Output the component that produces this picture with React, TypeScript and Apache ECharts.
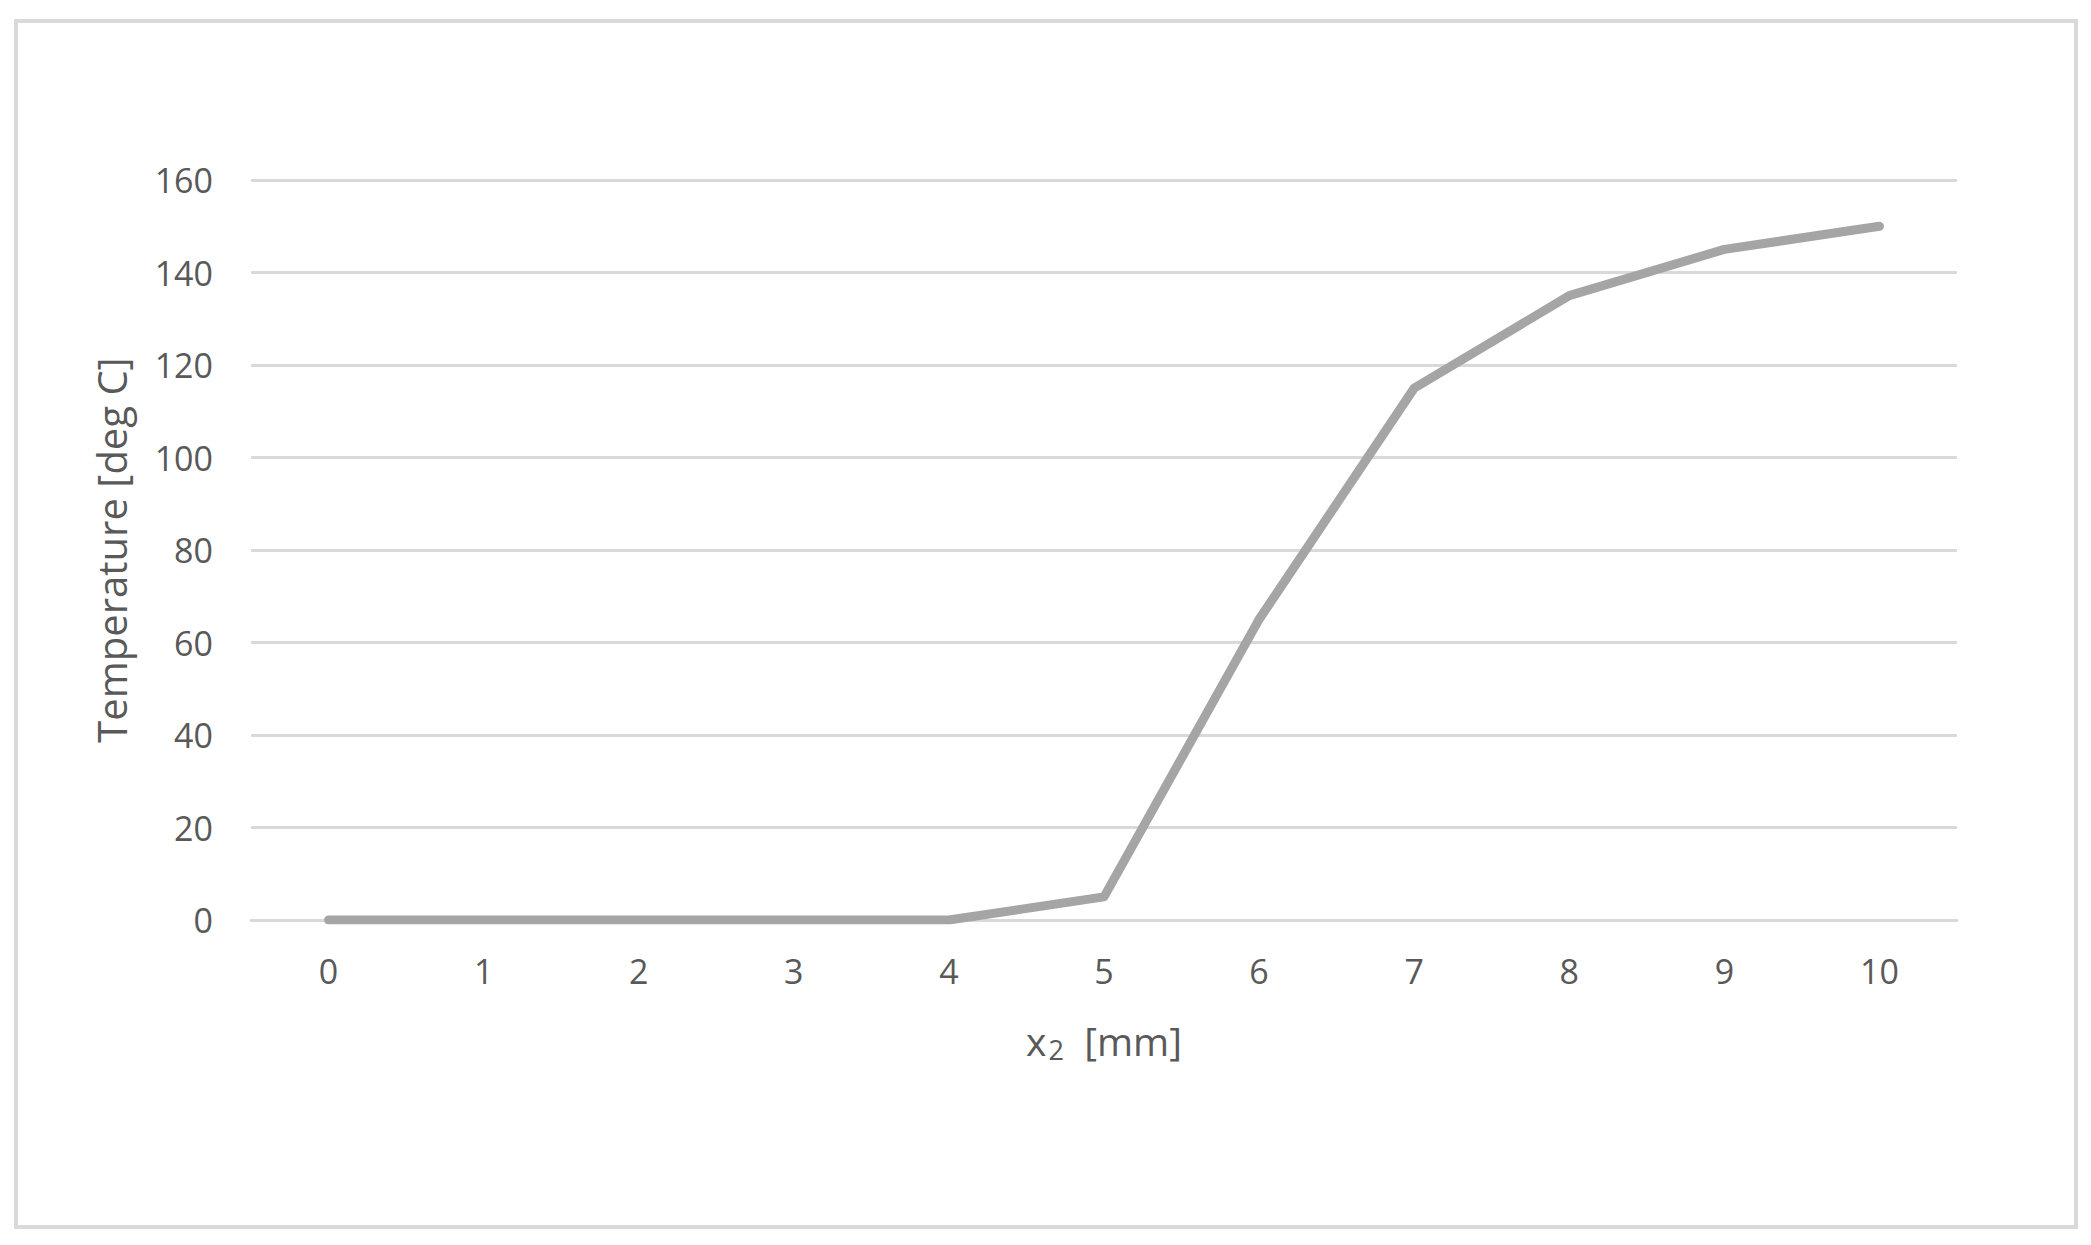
import React, { useEffect, useRef } from "react";
import * as echarts from "echarts";

const categories = ["0", "1", "2", "3", "4", "5", "6", "7", "8", "9", "10"];
const temperature = [0, 0, 0, 0, 0, 5, 65, 115, 135, 145, 150];
const yTicks = { min: 0, max: 160, interval: 20 };
const yTitle = "Temperature [deg C]";

export default function App() {
  const ref = useRef<HTMLDivElement>(null);
  useEffect(() => {
    if (!ref.current) return;
    const chart = echarts.init(ref.current, undefined, { renderer: "svg" });
    const font = "'Open Sans', 'Liberation Sans', sans-serif";
    chart.setOption({
      animation: false,
      backgroundColor: "#ffffff",
      textStyle: { fontFamily: font, color: "#595959" },
      graphic: [
        {
          type: "rect",
          shape: { x: 16, y: 21, width: 2060, height: 1206 },
          style: { fill: "none", stroke: "#D9D9D9", lineWidth: 4 },
          silent: true,
        },
      ],
      grid: { left: 251, right: 134, top: 180, bottom: 325, containLabel: false },
      xAxis: {
        type: "category",
        data: categories,
        boundaryGap: true,
        axisLine: { show: true, lineStyle: { color: "#D9D9D9", width: 3 } },
        axisTick: { show: false },
        axisLabel: { color: "#595959", fontSize: 34, margin: 34, fontFamily: font },
        name: "{a|x}{sub|2}{a|  [mm]}",
        nameLocation: "middle",
        nameGap: 98,
        nameTextStyle: {
          rich: {
            a: { fontSize: 39, color: "#595959", fontFamily: font },
            sub: { fontSize: 27, color: "#595959", fontFamily: font, padding: [18, 0, 0, 2] },
          },
        },
      },
      yAxis: {
        type: "value",
        min: yTicks.min,
        max: yTicks.max,
        interval: yTicks.interval,
        axisLine: { show: false },
        axisTick: { show: false },
        axisLabel: { color: "#595959", fontSize: 34, margin: 38, fontFamily: font },
        splitLine: { show: true, lineStyle: { color: "#D9D9D9", width: 3 } },
        name: yTitle,
        nameLocation: "middle",
        nameGap: 120,
        nameTextStyle: { fontSize: 40, color: "#595959", fontFamily: font },
      },
      series: [
        {
          type: "line",
          data: temperature,
          showSymbol: false,
          symbol: "none",
          lineStyle: { color: "#A5A5A5", width: 9, cap: "round", join: "round" },
          itemStyle: { color: "#A5A5A5" },
        },
      ],
    });
    return () => chart.dispose();
  }, []);
  return (
    <div
      ref={ref}
      style={{ position: "fixed", left: 0, top: 0, width: 2091, height: 1245 }}
    />
  );
}
